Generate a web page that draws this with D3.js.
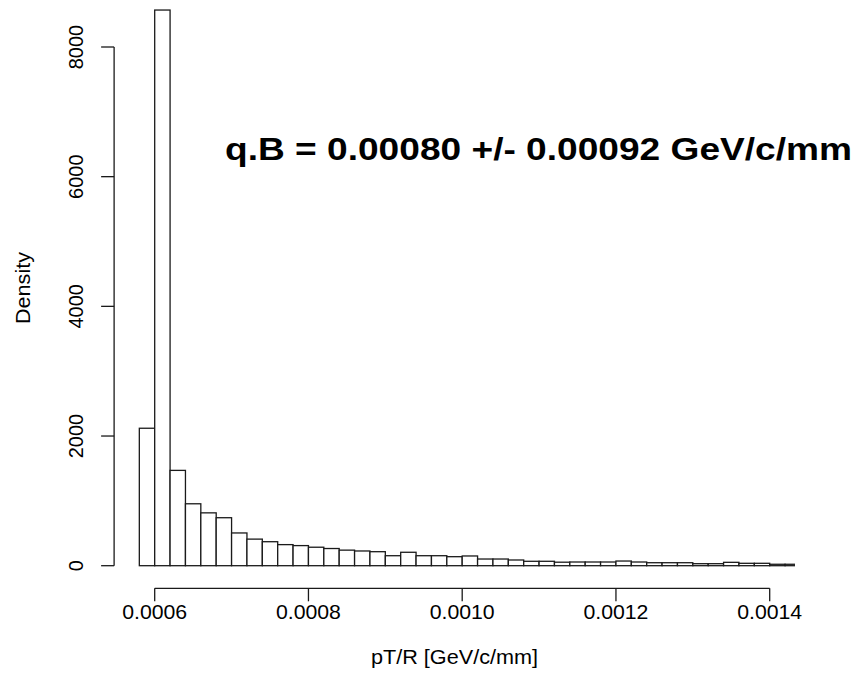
<!DOCTYPE html>
<html>
<head>
<meta charset="utf-8">
<script src="https://cdn.jsdelivr.net/npm/d3@7"></script>
<style>
  html, body { margin: 0; padding: 0; background: #fff; }
  svg { display: block; }
  text { font-family: "Liberation Sans", Arial, sans-serif; fill: #000; }
</style>
</head>
<body>
<svg id="chart" width="858" height="693"></svg>
<script>
// Histogram of pT/R (density scale), bins of width 0.00002 starting at 0.00058
const binStart = 0.00058;
const binWidth = 0.00002;
const densities = [
  2120, 8570, 1470, 955, 815, 740, 505, 410, 370, 325,
  310, 285, 265, 240, 227, 216, 154, 207, 154, 154,
  139, 150, 103, 103, 88, 68, 68, 54, 57, 57,
  57, 72, 57, 46, 46, 46, 31, 31, 52, 37,
  37, 22, 22
];
const xTicks = [0.0006, 0.0008, 0.0010, 0.0012, 0.0014];
const xTickLabels = ["0.0006", "0.0008", "0.0010", "0.0012", "0.0014"];
const yTicks = [0, 2000, 4000, 6000, 8000];
const xLimits = [0.00058, 0.0014];
const xTitle = "pT/R [GeV/c/mm]";
const yTitle = "Density";
const annotation = "q.B = 0.00080 +/- 0.00092 GeV/c/mm";

const svg = d3.select("#chart");

const x = d3.scaleLinear().domain([0.0006, 0.0014]).range([154.7, 769.7]);
const y = d3.scaleLinear().domain([0, 8000]).range([565.7, 47.0]);

// plotting region = x limits widened by 4% on each side
const span = xLimits[1] - xLimits[0];
const usrLeft = x(xLimits[0] - 0.04 * span);
const usrRight = x(xLimits[1] + 0.04 * span);

svg.append("defs").append("clipPath").attr("id", "plotClip")
  .append("rect")
  .attr("x", usrLeft).attr("y", -20)
  .attr("width", usrRight - usrLeft).attr("height", 610);

const bins = densities.map((d, i) => ({
  x0: binStart + i * binWidth,
  x1: binStart + (i + 1) * binWidth,
  d: d
}));

svg.append("g").attr("clip-path", "url(#plotClip)")
  .selectAll("rect").data(bins).join("rect")
  .attr("x", b => x(b.x0))
  .attr("y", b => y(b.d))
  .attr("width", b => x(b.x1) - x(b.x0))
  .attr("height", b => y(0) - y(b.d))
  .attr("fill", "#fff")
  .attr("stroke", "#1a1a1a")
  .attr("stroke-width", 1.3);

// x axis
const axisY = 588.3;
const tickLen = 13;
const gx = svg.append("g");
gx.append("line")
  .attr("x1", x(xTicks[0])).attr("x2", x(xTicks[xTicks.length - 1]))
  .attr("y1", axisY).attr("y2", axisY)
  .attr("stroke", "#1a1a1a").attr("stroke-width", 1.3);
gx.selectAll("line.tick").data(xTicks).join("line")
  .attr("class", "tick")
  .attr("x1", d => x(d)).attr("x2", d => x(d))
  .attr("y1", axisY).attr("y2", axisY + tickLen)
  .attr("stroke", "#1a1a1a").attr("stroke-width", 1.3);
gx.selectAll("text").data(xTicks).join("text")
  .attr("x", d => x(d)).attr("y", 619)
  .attr("text-anchor", "middle")
  .attr("font-size", 20)
  .attr("textLength", 65)
  .attr("lengthAdjust", "spacingAndGlyphs")
  .text((d, i) => xTickLabels[i]);

// y axis
const axisX = usrLeft;
const gy = svg.append("g");
gy.append("line")
  .attr("x1", axisX).attr("x2", axisX)
  .attr("y1", y(yTicks[0])).attr("y2", y(yTicks[yTicks.length - 1]))
  .attr("stroke", "#1a1a1a").attr("stroke-width", 1.3);
gy.selectAll("line.tick").data(yTicks).join("line")
  .attr("class", "tick")
  .attr("x1", axisX - tickLen).attr("x2", axisX)
  .attr("y1", d => y(d)).attr("y2", d => y(d))
  .attr("stroke", "#1a1a1a").attr("stroke-width", 1.3);
gy.selectAll("text").data(yTicks).join("text")
  .attr("transform", d => `translate(82.5,${y(d)}) rotate(-90)`)
  .attr("text-anchor", "middle")
  .attr("font-size", 20)
  .text(d => String(d));

// axis titles
svg.append("text")
  .attr("x", (usrLeft + usrRight) / 2).attr("y", 664)
  .attr("text-anchor", "middle")
  .attr("font-size", 20)
  .attr("textLength", 167)
  .attr("lengthAdjust", "spacingAndGlyphs")
  .text(xTitle);

svg.append("text")
  .attr("transform", "translate(30,288) rotate(-90)")
  .attr("text-anchor", "middle")
  .attr("font-size", 20)
  .attr("textLength", 72)
  .attr("lengthAdjust", "spacingAndGlyphs")
  .text(yTitle);

// fitted value annotation
svg.append("text")
  .attr("x", 225).attr("y", 160)
  .attr("font-size", 32)
  .attr("font-weight", "bold")
  .attr("textLength", 627)
  .attr("lengthAdjust", "spacingAndGlyphs")
  .text(annotation);
</script>
</body>
</html>
